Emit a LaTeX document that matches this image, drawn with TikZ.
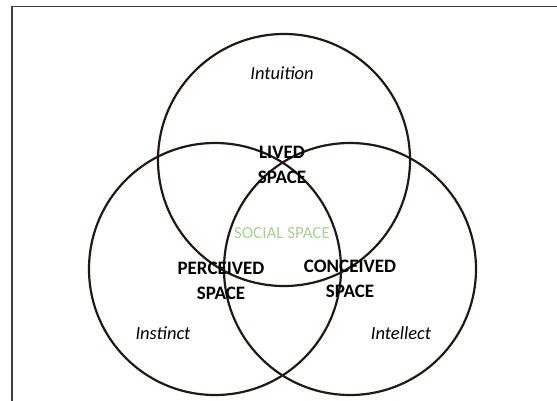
\documentclass[tikz,border=0pt]{standalone}
\usepackage{fontspec}
\setmainfont{Carlito}
\usepackage{tikz}

\definecolor{ringcol}{RGB}{35,24,21}
\definecolor{framecol}{RGB}{64,64,64}
\definecolor{socialcol}{RGB}{169,209,142}

\begin{document}
\begin{tikzpicture}[
  x=1pt,y=-1pt,
  ring/.style={circle,draw=ringcol,line width=2.2pt,minimum size=252pt,inner sep=0pt},
  space/.style={align=center,font=\bfseries\fontsize{19}{25}\selectfont},
  mind/.style={font=\itshape\fontsize{18.5}{20}\selectfont},
]
  \useasboundingbox (0,0) rectangle (557,400);
  \clip (0,0) rectangle (557,400);
  \draw[framecol,line width=1.2pt] (12,6.5) rectangle (580,420);

  % Circles
  \node[ring] (top)   at (284,160) {};
  \node[ring] (left)  at (215,269) {};
  \node[ring] (right) at (350,269) {};

  % Faculties
  \node[mind] (intuition) at (282,73)  {Intuition};
  \node[mind] (instinct)  at (163,333) {Instinct};
  \node[mind] (intellect) at (401,333) {Intellect};

  % Spaces
  \node[space] (lived)     at (282,165) {LIVED\\SPACE};
  \node[space] (perceived) at (221,281) {PERCEIVED\\SPACE};
  \node[space] (conceived) at (350,279) {CONCEIVED\\SPACE};

  \node[font=\fontsize{17}{20}\selectfont,text=socialcol] (social) at (282,233) {SOCIAL SPACE};
\end{tikzpicture}
\end{document}
